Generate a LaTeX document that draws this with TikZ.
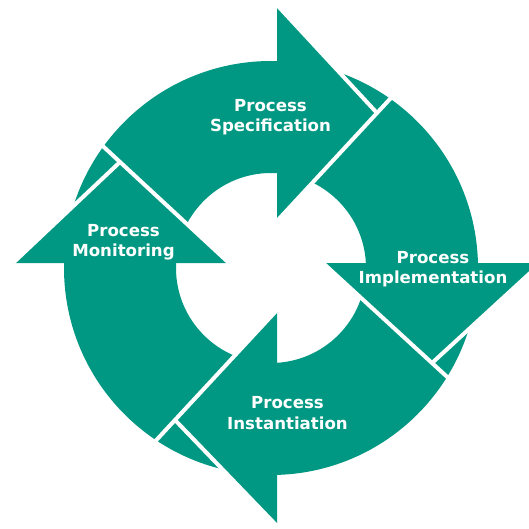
\documentclass[tikz,border=0pt]{standalone}
\usepackage{fontspec}
\newfontfamily\lblfont{DejaVu Sans}
\usetikzlibrary{calc}
\definecolor{cyclegreen}{RGB}{0,152,130}

\tikzset{
	part/.style={fill=cyclegreen},
	cut/.style={draw=white, line width=4pt},
	lbl/.style={text=white, align=center, font=\lblfont\bfseries\fontsize{16.6}{20.5}\selectfont}
}

\begin{document}
\begin{tikzpicture}[x=1pt, y=1pt]
	\useasboundingbox (-273,-262) rectangle (256,266);

	% ring and the four heads
	\fill[part, even odd rule] (-2,-2) circle (207pt) (-2,-2) circle (95pt);

	\coordinate (spec-out) at (4,261);
	\coordinate (spec-in) at (4,45);
	\coordinate (spec-tip) at (104,153);
	\coordinate (impl-out) at (268,3);
	\coordinate (impl-in) at (50,3);
	\coordinate (impl-tip) at (159,-97);
	\coordinate (inst-out) at (4,-260);
	\coordinate (inst-in) at (4,-44);
	\coordinate (inst-tip) at (-98,-154);
	\coordinate (moni-out) at (-260,3);
	\coordinate (moni-in) at (-44,3);
	\coordinate (moni-tip) at (-153,104);

	\fill[part] (spec-out) -- (spec-tip) -- (spec-in) -- cycle;
	\fill[part] (impl-out) -- (impl-tip) -- (impl-in) -- cycle;
	\fill[part] (inst-out) -- (inst-tip) -- (inst-in) -- cycle;
	\fill[part] (moni-out) -- (moni-tip) -- (moni-in) -- cycle;

	% white gaps
	\draw[cut] (spec-out) -- (spec-tip) (spec-in) -- ($(spec-tip)!-35pt!(spec-in)$);
	\draw[cut] (impl-out) -- (impl-tip) (impl-in) -- ($(impl-tip)!-35pt!(impl-in)$);
	\draw[cut] (inst-out) -- (inst-tip) (inst-in) -- ($(inst-tip)!-35pt!(inst-in)$);
	\draw[cut] (moni-out) -- (moni-tip) (moni-in) -- ($(moni-tip)!-35pt!(moni-in)$);

	\node[lbl] (spec) at (-2.5,149) {Process\\Specification};
	\node[lbl] (impl) at (160,-3) {Process\\Implementation};
	\node[lbl] (inst) at (14.5,-147) {Process\\Instantiation};
	\node[lbl] (moni) at (-149.5,24) {Process\\Monitoring};
\end{tikzpicture}
\end{document}
